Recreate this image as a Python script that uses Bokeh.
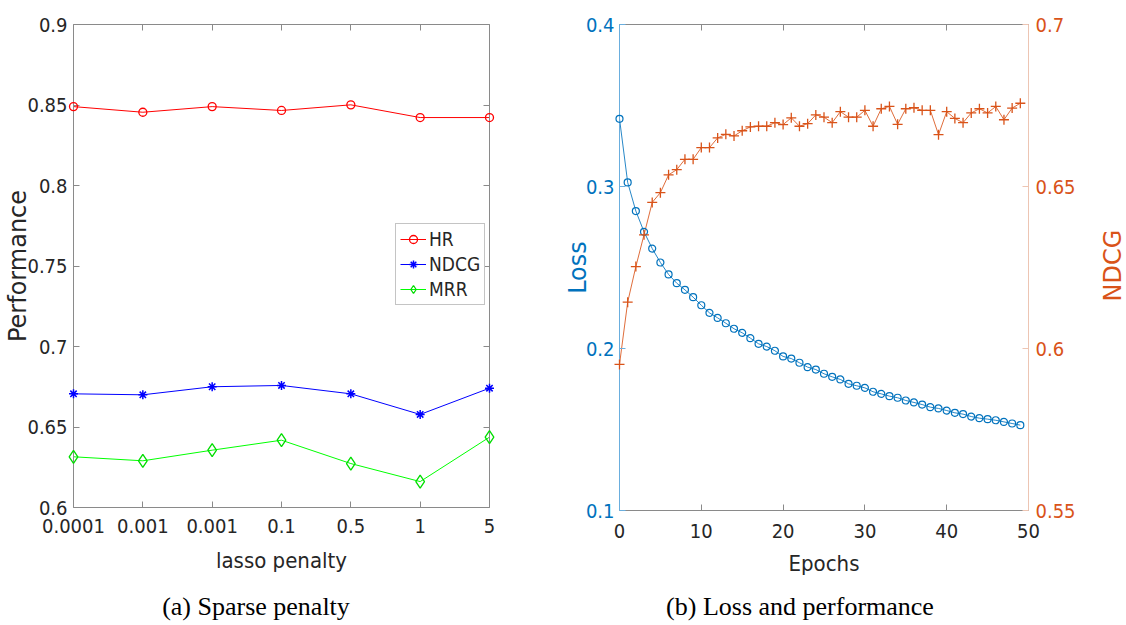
import math
from bokeh.plotting import figure
from bokeh.models import (Range1d, LinearAxis, FixedTicker, CustomJSTickFormatter,
                          Legend, LegendItem, Label, Div)
from bokeh.layouts import row, column
from bokeh.embed import file_html
from bokeh.resources import INLINE

# ---------------- data: (a) sparse penalty ----------------
penalty_labels = ["0.0001", "0.001", "0.001", "0.1", "0.5", "1", "5"]
penalty_pos = [1, 2, 3, 4, 5, 6, 7]
hr = [0.8490, 0.8455, 0.8490, 0.8466, 0.8501, 0.8422, 0.8422]
ndcg_a = [0.6706, 0.6700, 0.6750, 0.6758, 0.6706, 0.6578, 0.6741]
mrr = [0.6315, 0.6290, 0.6356, 0.6418, 0.6273, 0.6161, 0.6437]
perf_ticks = [0.6, 0.65, 0.7, 0.75, 0.8, 0.85, 0.9]

# ---------------- data: (b) loss and performance ----------------
epochs = list(range(50))
loss = [0.3418, 0.3025, 0.2848, 0.2720, 0.2617, 0.2531, 0.2457, 0.2403, 0.2362, 0.2317,
        0.2267, 0.2220, 0.2189, 0.2156, 0.2122, 0.2097, 0.2064, 0.2029, 0.2012, 0.1986,
        0.1951, 0.1938, 0.1912, 0.1885, 0.1870, 0.1844, 0.1825, 0.1809, 0.1782, 0.1770,
        0.1757, 0.1733, 0.1720, 0.1706, 0.1696, 0.1679, 0.1667, 0.1654, 0.1638, 0.1630,
        0.1617, 0.1603, 0.1595, 0.1580, 0.1570, 0.1564, 0.1557, 0.1547, 0.1537, 0.1527]
ndcg_b = [0.5951, 0.6143, 0.6253, 0.6351, 0.6451, 0.6481, 0.6536, 0.6552, 0.6584, 0.6584,
          0.6620, 0.6620, 0.6650, 0.6661, 0.6656, 0.6672, 0.6684, 0.6686, 0.6686, 0.6697,
          0.6691, 0.6712, 0.6686, 0.6694, 0.6721, 0.6714, 0.6697, 0.6731, 0.6714, 0.6714,
          0.6735, 0.6686, 0.6740, 0.6747, 0.6692, 0.6740, 0.6743, 0.6735, 0.6735, 0.6660,
          0.6731, 0.6710, 0.6697, 0.6727, 0.6740, 0.6727, 0.6747, 0.6706, 0.6742, 0.6757]
epoch_ticks = [0, 10, 20, 30, 40, 50]
loss_ticks = [0.1, 0.2, 0.3, 0.4]
ndcg_ticks = [0.55, 0.6, 0.65, 0.7]

NARROW = "DejaVu Sans Condensed, Roboto"
SANS = "DejaVu Sans"
SERIF = "Liberation Serif"
TXT = "#262626"
BOX = "#8a8a8a"
BLUE = "#0072BD"
ORANGE = "#D95319"
FIG_H = 590

num_fmt = CustomJSTickFormatter(code="return String(Number(tick.toFixed(4)))")


def style_axis(ax, ticks, line_color=BOX, text_color=TXT, standoff=7, labels=True):
    ax.ticker = FixedTicker(ticks=ticks)
    ax.axis_line_color = line_color
    ax.major_tick_line_color = line_color
    ax.major_tick_in = 6
    ax.major_tick_out = 0
    ax.minor_tick_line_color = None
    if labels:
        ax.major_label_text_font = NARROW
        ax.major_label_text_font_size = "20px"
        ax.major_label_text_color = text_color
        ax.major_label_standoff = standoff
    else:
        ax.formatter = CustomJSTickFormatter(code="return ''")
        ax.major_label_text_font_size = "0px"
        ax.major_label_standoff = 0


def caption(text, width, center):
    html = ('<div style="width:%dpx;text-align:center;margin-top:2px;'
            'font-family:\'Liberation Serif\';font-size:26px;line-height:30px;color:#000;'
            'white-space:nowrap">%s</div>' % (2 * center, text))
    return Div(text=html, width=width, height=625 - FIG_H, margin=(0, 0, 0, 0))


# ======================= (a) =======================
pa = figure(width=560, height=FIG_H, x_range=Range1d(1, 7), y_range=Range1d(0.6, 0.9),
            output_backend="svg", toolbar_location=None,
            min_border_left=73, min_border_right=71, min_border_top=24,
            min_border_bottom=FIG_H - 507)
pa.grid.visible = False
pa.outline_line_color = None

xa = pa.xaxis[0]
style_axis(xa, penalty_pos, standoff=11)
xa.major_label_overrides = {p: s for p, s in zip(penalty_pos, penalty_labels)}
xa.axis_label = "lasso penalty"
xa.axis_label_text_font = NARROW
xa.axis_label_text_font_size = "22px"
xa.axis_label_text_font_style = "normal"
xa.axis_label_text_color = TXT
xa.axis_label_standoff = 12

ya = pa.yaxis[0]
style_axis(ya, perf_ticks, standoff=6)
ya.formatter = num_fmt
ya.axis_label = "Performance"
ya.axis_label_text_font = SANS
ya.axis_label_text_font_size = "24px"
ya.axis_label_text_font_style = "normal"
ya.axis_label_text_color = TXT
ya.axis_label_standoff = -8

top_a = LinearAxis()
style_axis(top_a, penalty_pos, labels=False)
pa.add_layout(top_a, "above")
right_a = LinearAxis()
style_axis(right_a, perf_ticks, labels=False)
pa.add_layout(right_a, "right")

l_hr = pa.line(penalty_pos, hr, line_color="#FF0000", line_width=1)
s_hr = pa.scatter(penalty_pos, hr, marker="circle", size=8, line_color="#FF0000",
                  fill_color=None, line_width=1.3, level="overlay")
l_nd = pa.line(penalty_pos, ndcg_a, line_color="#0000FF", line_width=1)
s_nd = pa.scatter(penalty_pos, ndcg_a, marker="asterisk", size=9, line_color="#0000FF",
                  line_width=1.5, level="overlay")
l_mr = pa.line(penalty_pos, mrr, line_color="#00FF00", line_width=1)
s_mr = pa.scatter(penalty_pos, mrr, marker="diamond", size=13, line_color="#00DD00",
                  fill_color=None, line_width=1.3, level="overlay")

legend = Legend(items=[LegendItem(label="HR", renderers=[l_hr, s_hr]),
                       LegendItem(label="NDCG", renderers=[l_nd, s_nd]),
                       LegendItem(label="MRR", renderers=[l_mr, s_mr])],
                location=(322, 202))
legend.label_text_font = NARROW
legend.label_text_font_size = "19px"
legend.label_text_color = TXT
legend.border_line_color = BOX
legend.border_line_width = 1
legend.background_fill_color = "white"
legend.background_fill_alpha = 1
legend.glyph_width = 26
legend.glyph_height = 20
legend.label_height = 20
legend.spacing = 3
legend.padding = 4
legend.margin = 0
legend.label_standoff = 3
pa.add_layout(legend)

# ======================= (b) =======================
pb = figure(width=536, height=FIG_H, x_range=Range1d(0, 50), y_range=Range1d(0.1, 0.4),
            output_backend="svg", toolbar_location=None,
            min_border_left=58, min_border_right=68, min_border_top=24,
            min_border_bottom=FIG_H - 510)
pb.extra_y_ranges = {"ndcg": Range1d(0.55, 0.7)}
pb.grid.visible = False
pb.outline_line_color = None

xb = pb.xaxis[0]
style_axis(xb, epoch_ticks, standoff=13)
xb.axis_label = "Epochs"
xb.axis_label_text_font = NARROW
xb.axis_label_text_font_size = "22px"
xb.axis_label_text_font_style = "normal"
xb.axis_label_text_color = TXT
xb.axis_label_standoff = 10

yb = pb.yaxis[0]
style_axis(yb, loss_ticks, line_color="#6aaede", text_color=BLUE, standoff=5)
yb.formatter = num_fmt
yb.axis_label = "Loss"
yb.axis_label_text_font = SANS
yb.axis_label_text_font_size = "24px"
yb.axis_label_text_font_style = "normal"
yb.axis_label_text_color = BLUE
yb.axis_label_standoff = -9

top_b = LinearAxis()
style_axis(top_b, epoch_ticks, labels=False)
pb.add_layout(top_b, "above")

yr = LinearAxis(y_range_name="ndcg")
style_axis(yr, ndcg_ticks, line_color="#edc5b3", text_color=ORANGE, standoff=7)
yr.formatter = num_fmt
pb.add_layout(yr, "right")

pb.line(epochs, loss, line_color=BLUE, line_width=1, line_alpha=0.85)
pb.scatter(epochs, loss, marker="circle", size=7, line_color=BLUE, fill_color=None,
           line_width=1.2, level="overlay")
pb.line(epochs, ndcg_b, line_color=ORANGE, line_width=1, line_alpha=0.85, y_range_name="ndcg")
pb.scatter(epochs, ndcg_b, marker="cross", size=10, line_color=ORANGE, line_width=1.3,
           y_range_name="ndcg", level="overlay")

# narrow strip holding the right-hand axis title (NDCG), reading bottom-to-top
pc = figure(width=30, height=FIG_H, x_range=Range1d(0, 1), y_range=Range1d(0, 1),
            output_backend="svg", toolbar_location=None,
            min_border_left=0, min_border_right=0, min_border_top=0, min_border_bottom=0)
pc.axis.visible = False
pc.grid.visible = False
pc.outline_line_color = None
pc.add_layout(Label(x=2, y=245, x_units="screen", y_units="screen", text="NDCG",
                    angle=math.pi / 2, text_align="center", text_baseline="top",
                    text_font=SANS, text_font_size="24px", text_color=ORANGE))

cap_a = caption("(a) Sparse penalty", 560, 256)
cap_b = caption("(b) Loss and performance", 566, 240)

layout = row(column(pa, cap_a), column(row(pb, pc), cap_b))
open("out.html", "w").write(file_html(layout, INLINE))
